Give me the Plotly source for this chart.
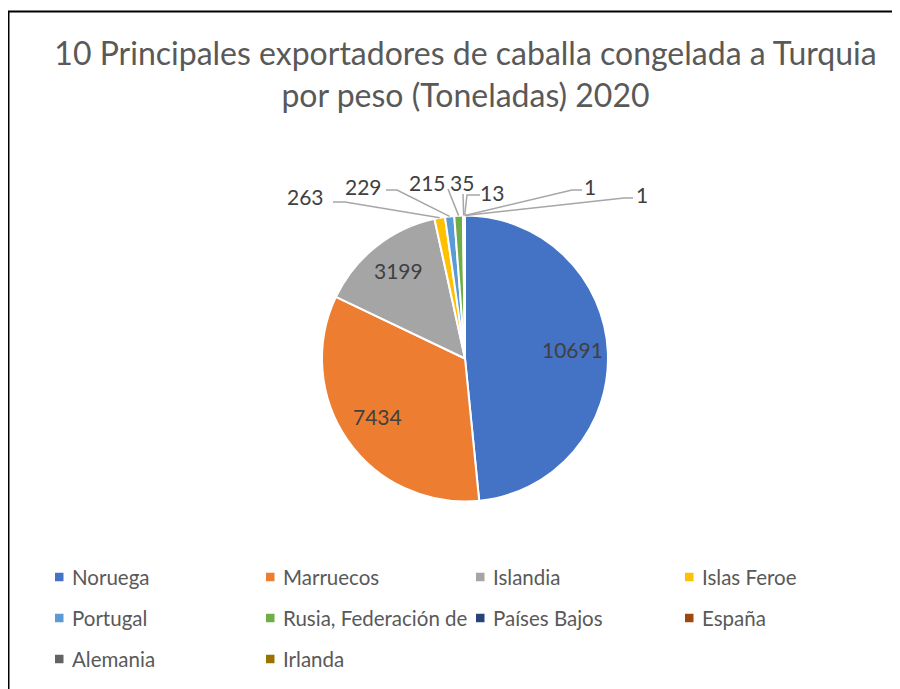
import math
import plotly.graph_objects as go

# ---- data ----
countries = ["Noruega", "Marruecos", "Islandia", "Islas Feroe", "Portugal",
             "Rusia, Federación de", "Países Bajos", "España", "Alemania", "Irlanda"]
tonnes = [10691, 7434, 3199, 263, 229, 215, 35, 13, 1, 1]
colors = ["#4472C4", "#ED7D31", "#A5A5A5", "#FFC000", "#5B9BD5",
          "#70AD47", "#264478", "#9E480E", "#636363", "#997300"]
title_text = "10 Principales exportadores de caballa congelada a Turquia<br>por peso (Toneladas) 2020"

# ---- layout constants (screen pixels) ----
W, H = 900, 689
OFF = 8  # page body margin
CX, CY, R = 465, 358.5, 143
FONT = "Lato"
TXT = "#595959"
LBL = "#404040"

def px(x):
    return (x - OFF) / W

def py(y):
    return 1 - (y - OFF) / H

fig = go.Figure(go.Pie(
    labels=countries, values=tonnes, sort=False, direction="clockwise", rotation=0,
    marker=dict(colors=colors, line=dict(color="white", width=2)),
    textinfo="none", hoverinfo="label+value", showlegend=False,
    domain=dict(x=[px(CX - R), px(CX + R)], y=[py(CY + R), py(CY - R)]),
))

total = sum(tonnes)
mids = []
cum = 0
for v in tonnes:
    mids.append((cum + v / 2) / total * 2 * math.pi)
    cum += v

annotations = []
shapes = []

# inside labels for the large slices
INSIDE_F = 0.75
for i in range(3):
    th = mids[i]
    annotations.append(dict(
        x=px(CX + INSIDE_F * R * math.sin(th)), y=py(CY - INSIDE_F * R * math.cos(th) - 4),
        xref="paper", yref="paper", text=str(tonnes[i]), showarrow=False,
        font=dict(family=FONT, size=21, color=LBL), xanchor="center", yanchor="middle"))

# outside label placement (text centre, leader end, elbow) in pixels
OUT = {
    3: (305, 197, 333, 202, 345, 202),
    4: (363, 186, 386, 190, 397, 190),
    5: (427, 183, 448, 189, 448, 189),
    6: (462, 183, 463, 194, 463, 194),
    7: (492, 192, 480, 195, 467, 195),
    8: (590, 186, 582, 190, 572, 190),
    9: (642, 194, 633, 198, 624, 198),
}
for i, (tx, ty, lx, ly, ex, ey) in OUT.items():
    th = mids[i]
    sx = CX + R * math.sin(th)
    sy = CY - R * math.cos(th)
    annotations.append(dict(
        x=px(tx), y=py(ty), xref="paper", yref="paper", text=str(tonnes[i]),
        showarrow=False, font=dict(family=FONT, size=21, color=LBL),
        xanchor="center", yanchor="middle"))
    path = "M{},{} L{},{} L{},{}".format(px(sx), py(sy), px(ex), py(ey), px(lx), py(ly))
    shapes.append(dict(type="path", xref="paper", yref="paper", path=path,
                       line=dict(color="#A6A6A6", width=1.5)))

# legend grid
COLS_MARK = [55, 266, 476, 685]
ROWS = [577, 618, 659]
MS = 8.5
for i, name in enumerate(countries):
    r, c = divmod(i, 4)
    mx = COLS_MARK[c]
    my = ROWS[r]
    shapes.append(dict(type="rect", xref="paper", yref="paper",
                       x0=px(mx), x1=px(mx + MS), y0=py(my + MS / 2), y1=py(my - MS / 2),
                       fillcolor=colors[i], line=dict(width=0)))
    annotations.append(dict(
        x=px(mx + 15), y=py(my), xref="paper", yref="paper", text=name,
        showarrow=False, font=dict(family=FONT, size=20.5, color=TXT),
        xanchor="left", yanchor="middle"))

# chart border
shapes.append(dict(type="rect", xref="paper", yref="paper",
                   x0=px(8.5), x1=px(915), y0=py(705), y1=py(11.5),
                   line=dict(color="#000000", width=2), fillcolor="rgba(0,0,0,0)"))

fig.update_layout(
    width=W, height=H, margin=dict(l=0, r=0, t=0, b=0),
    paper_bgcolor="white", plot_bgcolor="white",
    title=dict(text=title_text, x=px(465.5), xanchor="center", y=1 - 57 / H, yanchor="top",
               font=dict(family=FONT, size=32, color=TXT)),
    annotations=annotations, shapes=shapes, showlegend=False,
)

fig.write_html("out.html")
